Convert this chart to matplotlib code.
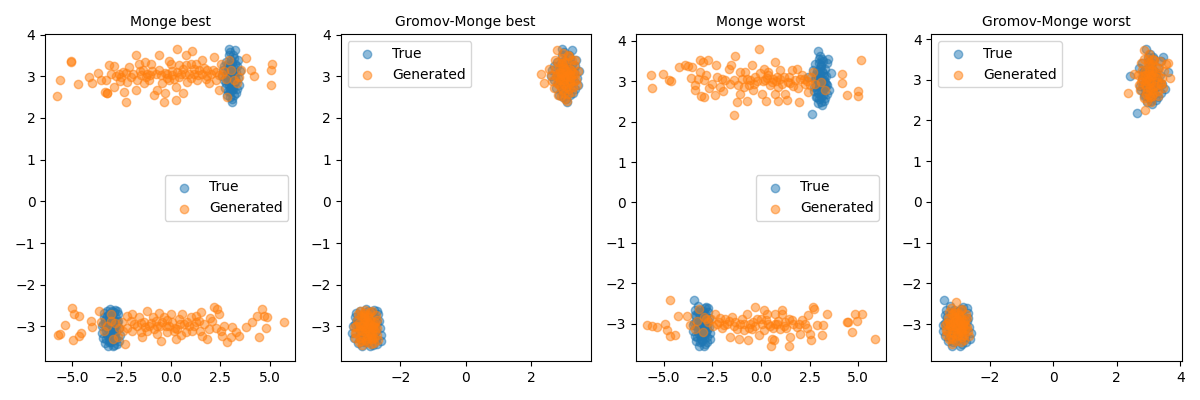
import numpy as np
import matplotlib
matplotlib.use("Agg")
import matplotlib.pyplot as plt

# true samples, "best" run (used in both best panels)
true_best_up = [
    (3.05, 3.00), (2.88, 3.21), (3.21, 2.84), (3.12, 3.33), (2.95, 2.78), (3.30, 3.10), (2.80, 3.02), (3.02, 2.62), (3.18, 3.45), (2.92, 3.12),
    (3.40, 2.95), (2.70, 2.90), (3.08, 2.45), (3.25, 3.62), (2.99, 3.28), (3.15, 2.70), (2.85, 2.55), (3.35, 3.25), (3.00, 2.92), (2.78, 3.35),
    (3.22, 3.05), (3.10, 2.38), (2.95, 3.50), (3.45, 2.80), (2.65, 3.15), (3.05, 3.15), (3.28, 2.60), (2.90, 2.95), (3.12, 2.85), (3.38, 3.40),
    (2.75, 2.72), (3.02, 3.58), (3.20, 3.20), (2.98, 2.50), (3.32, 2.88), (2.85, 3.05), (3.08, 2.75), (3.48, 3.12), (2.60, 3.00), (3.15, 3.52),
    (2.92, 2.65), (3.25, 2.98), (3.05, 3.38), (2.82, 2.85), (3.18, 2.55), (3.00, 3.08), (3.35, 2.70), (2.70, 3.25), (3.10, 3.00), (2.95, 3.65),
    (3.02, 3.22), (3.15, 3.10), (2.90, 2.88), (3.08, 2.92), (3.25, 3.30), (2.98, 2.70), (3.12, 2.68), (2.88, 3.30), (3.20, 2.95), (3.05, 2.82),
]
true_best_low = [
    (-2.95, -3.00), (-3.10, -2.80), (-2.80, -3.18), (-3.25, -3.10), (-2.70, -2.90), (-3.05, -3.35), (-2.88, -2.65), (-3.40, -2.95), (-2.62, -3.05), (-3.15, -3.22),
    (-2.98, -2.72), (-3.30, -3.40), (-2.75, -3.30), (-3.05, -2.58), (-2.85, -3.45), (-3.20, -2.75), (-2.68, -2.70), (-3.48, -3.15), (-2.92, -3.10), (-3.12, -2.92),
    (-2.78, -3.00), (-3.35, -2.68), (-3.00, -3.25), (-2.58, -3.20), (-3.18, -3.48), (-2.90, -2.85), (-3.28, -3.02), (-2.72, -3.42), (-3.08, -3.12), (-2.82, -2.60),
    (-3.42, -3.28), (-2.95, -2.90), (-3.22, -2.62), (-2.65, -2.88), (-3.02, -3.38), (-2.88, -3.20), (-3.32, -2.85), (-2.75, -3.12), (-3.15, -3.05), (-2.98, -2.78),
    (-3.45, -3.00), (-2.60, -3.35), (-3.10, -2.70), (-2.85, -3.02), (-3.25, -3.30), (-2.70, -2.62), (-3.05, -2.95), (-2.92, -3.48), (-3.38, -2.78), (-2.80, -2.95),
    (-3.02, -3.08), (-2.90, -2.95), (-3.18, -2.90), (-3.08, -3.25), (-2.85, -3.28), (-3.22, -3.18), (-2.98, -2.62), (-3.12, -3.38), (-2.78, -2.80), (-3.30, -2.92),
]

# true samples, "worst" run
true_worst_up = [
    (3.05, 3.00), (2.90, 3.25), (3.22, 2.82), (3.10, 3.40), (2.95, 2.70), (3.35, 3.12), (2.78, 3.05), (3.00, 2.55), (3.15, 3.55), (2.88, 3.15),
    (3.42, 2.90), (2.72, 2.85), (3.08, 2.48), (2.92, 3.75), (3.02, 3.30), (3.18, 2.65), (2.85, 2.60), (3.30, 3.30), (3.00, 2.88), (2.80, 3.42),
    (3.25, 3.02), (3.12, 2.40), (2.98, 3.55), (3.50, 2.78), (2.62, 2.18), (3.05, 3.18), (3.28, 2.58), (2.92, 2.95), (3.15, 2.80), (3.40, 3.45),
    (2.75, 2.75), (3.05, 3.62), (3.20, 3.20), (2.95, 2.45), (3.35, 2.92), (2.85, 3.08), (3.10, 2.72), (3.62, 3.20), (2.40, 3.10), (3.18, 3.50),
    (2.90, 2.62), (3.28, 2.98), (3.08, 3.38), (2.82, 2.88), (3.22, 2.50), (3.00, 3.10), (3.38, 2.68), (2.70, 3.28), (3.12, 3.02), (3.45, 3.55),
    (3.02, 2.92), (3.15, 3.25), (2.95, 3.05), (3.08, 2.60), (3.22, 3.12), (2.88, 2.78), (3.30, 2.85), (3.00, 3.45), (3.12, 2.88), (2.82, 3.18),
]
true_worst_low = [
    (-3.00, -3.00), (-3.15, -2.78), (-2.85, -3.20), (-3.28, -3.08), (-2.72, -2.92), (-3.08, -3.38), (-2.90, -2.62), (-3.42, -2.98), (-2.65, -3.08), (-3.18, -3.25),
    (-3.02, -2.70), (-3.32, -3.42), (-2.78, -3.32), (-3.45, -2.40), (-2.88, -3.50), (-3.22, -2.72), (-2.70, -2.72), (-3.48, -3.18), (-2.95, -3.12), (-3.12, -2.90),
    (-2.80, -3.02), (-3.38, -2.65), (-3.02, -3.28), (-2.60, -3.22), (-3.20, -3.55), (-2.92, -2.85), (-3.30, -3.05), (-2.75, -3.45), (-3.10, -3.15), (-2.85, -2.58),
    (-3.40, -3.30), (-2.98, -2.92), (-3.25, -2.55), (-2.68, -2.85), (-3.05, -3.42), (-2.90, -3.22), (-3.35, -2.82), (-2.78, -3.15), (-3.15, -3.05), (-3.00, -2.75),
    (-3.48, -3.02), (-2.62, -3.38), (-3.12, -2.65), (-2.88, -3.00), (-3.28, -3.32), (-2.72, -2.60), (-3.08, -2.95), (-2.95, -3.55), (-3.40, -2.78), (-2.82, -2.92),
    (-3.05, -3.10), (-2.92, -3.35), (-3.20, -2.88), (-3.10, -3.30), (-2.85, -2.80), (-3.25, -3.18), (-2.98, -2.68), (-3.15, -3.45), (-2.78, -3.05), (-3.32, -2.95),
]

# generated, Monge best
monge_best_up = [
    (-5.77, 2.52), (-5.61, 2.92), (-5.05, 3.34), (-5.02, 3.36), (-4.71, 2.81), (-4.12, 2.98), (-3.96, 2.85), (-3.70, 3.08), (-3.53, 2.91), (-3.31, 2.63),
    (-3.23, 2.59), (-3.20, 2.61), (-3.28, 2.92), (-3.11, 3.26), (-3.03, 3.06), (-2.86, 3.24), (-2.86, 2.75), (-2.61, 3.06), (-2.52, 2.98), (-2.36, 2.63),
    (-2.27, 2.39), (-2.19, 2.87), (-2.10, 3.22), (-2.02, 2.98), (-1.77, 3.52), (-1.77, 2.67), (-1.68, 2.90), (-1.60, 3.30), (-1.51, 3.02), (-1.35, 2.83),
    (-1.30, 3.34), (-1.18, 3.06), (-1.09, 2.90), (-1.01, 3.30), (-0.84, 2.55), (-0.76, 3.06), (-0.67, 2.67), (-0.59, 3.50), (-0.50, 3.02), (-0.42, 2.83),
    (-0.34, 2.39), (-0.28, 2.59), (-0.17, 3.06), (-0.08, 3.37), (0.00, 3.30), (0.09, 3.02), (0.17, 2.94), (0.25, 2.75), (0.25, 2.44), (0.34, 3.65),
    (0.42, 3.26), (0.51, 3.06), (0.62, 2.59), (0.76, 3.50), (0.76, 3.26), (0.84, 2.87), (1.01, 3.30), (1.10, 3.60), (1.18, 3.06), (1.26, 3.30),
    (1.35, 2.90), (1.57, 3.40), (1.60, 3.06), (1.77, 2.94), (1.85, 3.14), (2.02, 3.06), (2.19, 3.46), (2.27, 2.90), (2.44, 2.67), (2.53, 3.30),
    (2.61, 3.06), (2.78, 2.94), (2.86, 2.51), (2.95, 3.38), (3.03, 3.14), (3.20, 2.90), (3.37, 2.83), (3.45, 2.98), (3.54, 3.14), (3.79, 3.45),
    (4.04, 3.14), (4.21, 3.00), (5.05, 3.16), (5.14, 3.30), (5.09, 2.79), (-2.40, 3.10), (-1.90, 3.05), (-1.25, 2.98), (-0.95, 3.12), (0.30, 3.10),
    (0.60, 3.18), (0.95, 3.05), (1.45, 3.15), (1.70, 3.20), (2.30, 3.10), (-0.20, 2.95), (1.95, 2.85), (-2.75, 3.00), (-2.25, 3.08), (-1.55, 3.12),
    (-1.05, 3.02), (-0.60, 3.15), (-0.30, 3.08), (0.05, 3.12), (0.40, 2.98), (0.70, 3.05), (1.20, 3.18), (1.40, 3.02), (1.85, 3.00), (2.15, 3.15),
    (2.45, 3.02), (2.70, 3.12), (-1.40, 3.15), (-0.10, 2.92), (1.05, 2.95), (-2.55, 2.88),
]
monge_best_low = [
    (-5.72, -3.20), (-5.61, -3.18), (-5.34, -2.97), (-4.97, -2.57), (-4.88, -2.70), (-4.63, -2.74), (-4.93, -3.32), (-4.66, -3.22), (-4.55, -3.16), (-4.04, -2.86),
    (-3.96, -3.02), (-3.62, -2.62), (-3.53, -2.90), (-3.03, -2.86), (-2.69, -3.26), (-2.44, -2.90), (-2.31, -3.42), (-2.19, -2.74), (-2.02, -2.86), (-1.94, -2.70),
    (-1.85, -2.94), (-1.60, -2.78), (-1.51, -3.14), (-1.43, -3.26), (-1.35, -2.90), (-1.18, -2.62), (-1.09, -2.98), (-0.92, -2.78), (-0.84, -3.06), (-0.76, -2.86),
    (-0.67, -3.18), (-0.59, -2.68), (-0.50, -3.34), (-0.42, -2.90), (-0.34, -2.78), (-0.17, -3.14), (-0.08, -2.98), (0.00, -2.70), (0.09, -2.90), (0.25, -3.30),
    (0.34, -3.06), (0.42, -2.82), (0.59, -2.70), (0.76, -3.14), (0.84, -2.90), (1.01, -2.78), (1.18, -2.98), (1.26, -2.74), (1.43, -2.86), (1.52, -2.66),
    (1.60, -3.22), (1.85, -3.30), (1.94, -3.06), (2.11, -2.86), (2.19, -2.54), (2.36, -2.58), (2.44, -2.70), (2.53, -3.10), (2.61, -3.22), (2.70, -2.98),
    (2.86, -3.38), (3.03, -3.26), (3.12, -3.02), (3.29, -3.14), (3.45, -3.22), (3.79, -3.02), (4.13, -2.90), (4.38, -2.74), (4.46, -3.26), (4.63, -2.58),
    (4.72, -2.74), (4.80, -3.05), (4.88, -2.78), (5.73, -2.90), (-3.20, -3.00), (-2.90, -3.30), (-3.00, -2.70), (-2.60, -3.05), (-1.70, -3.00), (-1.20, -3.10),
    (-0.25, -3.00), (0.20, -3.05), (0.65, -2.95), (1.10, -3.10), (-2.20, -3.05), (0.50, -3.20), (-2.80, -2.92), (-2.40, -3.12), (-1.95, -3.10), (-1.50, -2.92),
    (-0.98, -2.92), (-0.55, -2.98), (-0.20, -2.85), (0.15, -3.12), (0.45, -2.95), (0.95, -3.00), (1.30, -2.90), (1.70, -2.95), (2.00, -2.80), (2.30, -3.05),
    (-1.30, -3.02), (-0.70, -3.00), (1.50, -3.10), (-3.35, -3.10),
]

# generated, Gromov-Monge best
gm_best_up = [
    (3.00, 3.00), (2.85, 3.20), (3.18, 2.85), (3.08, 3.35), (2.92, 2.75), (3.28, 3.08), (2.75, 3.00), (3.02, 2.60), (3.12, 3.50), (2.88, 3.10),
    (3.38, 2.92), (2.65, 2.88), (3.05, 2.45), (2.78, 3.62), (2.98, 3.25), (3.15, 2.70), (2.82, 2.55), (3.30, 3.28), (3.00, 2.90), (2.72, 3.40),
    (3.20, 3.02), (3.10, 2.40), (2.95, 3.45), (3.42, 2.78), (2.30, 3.05), (3.05, 3.15), (3.25, 2.62), (2.90, 2.95), (3.12, 2.82), (3.35, 3.40),
    (2.70, 2.72), (2.98, 3.55), (3.18, 3.18), (2.92, 2.52), (3.32, 2.88), (2.80, 3.05), (3.08, 2.75), (3.45, 3.12), (2.55, 3.18), (3.15, 3.48),
    (2.40, 2.85), (3.22, 2.98), (3.02, 3.35), (2.78, 2.85), (3.12, 2.58), (2.95, 3.08), (3.05, 2.95), (3.15, 3.05), (2.88, 2.90), (3.00, 3.20),
    (3.10, 3.12), (2.92, 3.02), (3.22, 3.15), (2.85, 2.78), (3.02, 2.82), (3.18, 2.92), (2.95, 3.32), (2.72, 3.18), (3.28, 2.75), (3.08, 3.00),
    (2.98, 2.68), (3.25, 3.38), (2.82, 3.35), (3.35, 3.05), (2.62, 3.02),
]
gm_best_low = [
    (-3.00, -3.00), (-3.12, -2.80), (-2.88, -3.18), (-3.25, -3.08), (-2.78, -2.90), (-3.05, -3.32), (-2.92, -2.65), (-3.35, -2.98), (-2.72, -3.05), (-3.15, -3.22),
    (-3.00, -2.72), (-3.28, -3.38), (-2.82, -3.28), (-3.08, -2.60), (-2.90, -3.42), (-3.20, -2.75), (-2.75, -2.72), (-3.40, -3.15), (-2.95, -3.10), (-3.10, -2.92),
    (-2.85, -3.00), (-3.30, -2.70), (-3.02, -3.22), (-2.70, -3.20), (-3.18, -3.45), (-2.92, -2.85), (-3.25, -3.00), (-2.80, -3.40), (-3.08, -3.12), (-2.88, -2.62),
    (-3.38, -3.28), (-2.98, -2.90), (-3.22, -2.62), (-2.72, -2.85), (-3.02, -3.38), (-2.90, -3.20), (-3.32, -2.85), (-2.78, -3.12), (-3.12, -3.05), (-2.98, -2.78),
    (-3.42, -3.02), (-2.68, -3.32), (-3.10, -2.68), (-2.85, -3.05), (-3.22, -3.28), (-3.05, -3.05), (-2.95, -2.95), (-3.15, -2.98), (-3.02, -2.88), (-2.92, -3.15),
    (-3.18, -3.12), (-3.08, -2.82), (-2.82, -2.95), (-3.28, -2.92), (-3.00, -3.28), (-2.88, -3.30), (-3.20, -3.35), (-3.12, -2.72), (-2.78, -3.02), (-3.35, -3.15),
]

# generated, Monge worst
monge_worst_up = [
    (-5.67, 3.16), (-5.59, 2.84), (-5.04, 3.17), (-4.73, 3.02), (-4.61, 3.01), (-4.22, 3.34), (-3.88, 3.40), (-3.74, 3.37), (-3.62, 3.07), (-3.54, 3.34),
    (-3.40, 2.90), (-3.37, 2.78), (-3.11, 3.52), (-2.99, 3.48), (-3.11, 3.23), (-3.06, 2.63), (-2.94, 2.60), (-2.94, 3.02), (-2.72, 3.52), (-2.68, 2.82),
    (-2.51, 2.94), (-2.38, 2.65), (-2.31, 3.40), (-2.26, 3.10), (-2.09, 2.86), (-1.95, 2.75), (-1.83, 3.02), (-1.66, 3.31), (-1.52, 3.40), (-1.40, 3.02),
    (-1.32, 3.62), (-1.40, 2.17), (-1.23, 2.49), (-1.06, 3.23), (-1.06, 2.68), (-0.89, 2.86), (-0.80, 3.23), (-0.72, 2.50), (-0.55, 3.02), (-0.46, 3.40),
    (-0.43, 2.79), (-0.29, 3.11), (-0.12, 3.79), (-0.03, 3.19), (0.05, 2.69), (0.14, 3.31), (0.22, 3.02), (0.26, 2.50), (0.39, 3.15), (0.56, 2.98),
    (0.70, 2.69), (0.74, 3.48), (0.82, 3.11), (0.87, 2.50), (0.99, 3.27), (1.08, 2.94), (1.25, 2.69), (1.33, 2.53), (1.42, 3.11), (1.59, 3.27),
    (1.76, 3.02), (1.85, 3.31), (1.93, 2.82), (1.97, 2.49), (2.10, 3.15), (2.27, 2.94), (2.44, 2.74), (2.58, 3.11), (2.70, 3.23), (2.79, 2.94),
    (3.09, 2.98), (3.30, 2.78), (4.15, 3.17), (4.15, 2.96), (4.41, 2.65), (5.01, 2.75), (5.01, 2.63), (5.13, 3.52), (-0.20, 3.00), (0.30, 3.08),
    (0.60, 3.05), (1.00, 3.05), (1.50, 2.95), (2.00, 3.05), (-0.70, 3.05), (-1.20, 2.90), (2.35, 3.00), (0.90, 2.85), (-3.25, 3.05), (-2.80, 3.15),
    (-2.00, 3.05), (-1.60, 2.92), (-0.95, 3.05), (-0.35, 2.92), (0.10, 3.00), (0.45, 2.90), (0.80, 3.00), (1.20, 3.10), (1.65, 2.88), (2.20, 3.05),
    (2.55, 2.90), (-0.60, 2.90), (0.35, 3.22), (1.40, 2.98),
]
monge_worst_low = [
    (-5.84, -3.04), (-5.59, -3.06), (-5.33, -3.08), (-4.91, -3.00), (-4.82, -3.15), (-4.70, -2.42), (-4.70, -3.31), (-4.43, -3.29), (-4.26, -2.82), (-3.79, -2.82),
    (-3.67, -3.04), (-3.37, -3.12), (-3.28, -2.92), (-3.20, -2.63), (-2.94, -2.83), (-2.82, -2.87), (-2.38, -2.75), (-2.26, -3.00), (-2.17, -2.96), (-1.83, -2.87),
    (-1.74, -3.00), (-1.57, -3.33), (-1.49, -2.83), (-1.32, -2.96), (-1.23, -3.12), (-1.15, -3.37), (-0.97, -2.87), (-0.89, -3.16), (-0.72, -2.75), (-0.67, -3.41),
    (-0.55, -3.00), (-0.46, -3.12), (-0.33, -2.59), (-0.21, -2.87), (-0.12, -3.29), (0.05, -3.00), (0.14, -2.65), (0.14, -3.16), (0.31, -2.75), (0.39, -3.00),
    (0.53, -3.54), (0.56, -3.37), (0.65, -3.41), (0.74, -2.75), (0.82, -3.00), (0.99, -3.12), (1.08, -2.65), (1.11, -2.75), (1.25, -2.96), (1.42, -2.87),
    (1.50, -3.33), (1.42, -3.56), (1.67, -3.00), (1.85, -3.08), (2.02, -3.25), (2.10, -2.90), (2.27, -3.00), (2.44, -2.79), (2.53, -3.25), (2.58, -3.41),
    (2.70, -2.59), (2.75, -2.63), (2.87, -3.04), (3.13, -3.29), (3.21, -3.04), (3.38, -2.75), (4.41, -2.96), (4.49, -2.96), (4.70, -3.20), (4.84, -2.75),
    (5.18, -2.75), (4.92, -2.92), (5.86, -3.37), (-2.45, -3.05), (-2.00, -3.10), (-1.10, -3.00), (-0.30, -3.05), (0.25, -2.90), (0.60, -3.10), (1.30, -3.10),
    (-3.00, -3.20), (-2.70, -2.95), (-2.55, -2.88), (-2.10, -2.85), (-1.65, -2.92), (-1.40, -3.05), (-0.85, -3.00), (-0.40, -2.95), (0.00, -2.88), (0.45, -3.05),
    (0.90, -2.92), (1.20, -3.05), (1.60, -2.90), (1.95, -3.00), (2.35, -3.10), (-0.60, -3.10), (0.70, -3.00), (-1.90, -3.02),
]

# generated, Gromov-Monge worst
gm_worst_up = [
    (3.00, 3.00), (2.88, 3.22), (3.20, 2.85), (3.10, 3.38), (2.95, 2.72), (3.30, 3.10), (2.78, 3.02), (3.05, 2.58), (3.15, 3.52), (2.90, 3.12),
    (3.40, 2.92), (2.70, 2.88), (3.08, 2.45), (2.85, 3.72), (3.00, 3.28), (3.18, 2.68), (2.85, 2.55), (3.32, 3.30), (3.02, 2.90), (2.75, 3.42),
    (3.22, 3.05), (2.88, 2.25), (2.98, 3.50), (3.45, 2.80), (2.35, 2.68), (3.05, 3.15), (3.28, 2.60), (2.92, 2.98), (3.15, 2.82), (3.55, 3.38),
    (2.72, 2.75), (3.00, 3.62), (3.20, 3.20), (2.95, 2.48), (3.38, 2.90), (2.82, 3.08), (3.10, 2.75), (3.68, 3.05), (2.55, 3.15), (3.18, 3.48),
    (2.92, 2.65), (3.62, 3.42), (3.05, 3.38), (3.48, 3.22), (3.12, 2.60), (2.95, 3.05), (3.08, 2.95), (3.15, 3.12), (2.88, 2.90), (3.02, 3.18),
    (3.12, 3.25), (2.92, 2.82), (3.25, 2.95), (2.80, 3.25), (3.05, 2.80), (3.22, 3.32), (2.98, 3.40), (2.75, 2.95), (3.30, 2.72), (3.08, 3.08),
    (2.85, 3.50), (3.35, 3.45), (2.68, 3.12), (3.42, 3.05), (3.00, 2.62),
]
gm_worst_low = [
    (-3.00, -3.00), (-3.12, -2.82), (-2.88, -3.18), (-3.25, -3.05), (-2.78, -2.90), (-3.05, -3.30), (-2.92, -2.65), (-3.35, -2.98), (-2.72, -3.08), (-3.15, -3.22),
    (-3.00, -2.72), (-3.28, -3.38), (-2.82, -3.28), (-3.05, -2.45), (-2.90, -3.45), (-3.20, -2.75), (-2.75, -2.75), (-3.38, -3.15), (-2.95, -3.10), (-3.10, -2.92),
    (-2.85, -3.00), (-3.30, -2.70), (-3.02, -3.22), (-2.68, -3.18), (-3.20, -3.50), (-2.92, -2.85), (-3.25, -3.00), (-2.80, -3.40), (-3.08, -3.12), (-2.88, -2.62),
    (-3.38, -3.28), (-2.98, -2.90), (-3.22, -2.60), (-2.72, -2.85), (-3.05, -3.42), (-2.90, -3.20), (-3.32, -2.85), (-2.78, -3.12), (-3.12, -3.05), (-2.98, -2.78),
    (-3.40, -3.02), (-2.65, -3.30), (-3.10, -2.68), (-2.85, -3.05), (-3.22, -3.30), (-3.05, -3.05), (-2.95, -2.95), (-3.15, -2.98), (-3.02, -2.88), (-2.92, -3.15),
    (-3.18, -3.12), (-3.08, -2.82), (-2.82, -2.95), (-3.28, -2.92), (-3.00, -3.28), (-2.88, -3.32), (-3.20, -3.38), (-3.12, -2.72), (-2.78, -3.02), (-3.35, -3.18),
]

titles = ["Monge best", "Gromov-Monge best", "Monge worst", "Gromov-Monge worst"]
true_sets = [true_best_up + true_best_low, true_best_up + true_best_low,
             true_worst_up + true_worst_low, true_worst_up + true_worst_low]
gen_sets = [monge_best_up + monge_best_low, gm_best_up + gm_best_low,
            monge_worst_up + monge_worst_low, gm_worst_up + gm_worst_low]
legend_locs = ["center right", "upper left", "center right", "upper left"]

fig, axes = plt.subplots(1, 4, figsize=(12, 4), dpi=100)
for ax, title, tr, ge, loc in zip(axes, titles, true_sets, gen_sets, legend_locs):
    tr = np.array(tr)
    ge = np.array(ge)
    ax.scatter(tr[:, 0], tr[:, 1], alpha=0.5, label="True")
    ax.scatter(ge[:, 0], ge[:, 1], alpha=0.5, label="Generated")
    ax.set_title(title, fontsize=10)
    ax.legend(loc=loc)

plt.tight_layout()
plt.savefig("out.png")
